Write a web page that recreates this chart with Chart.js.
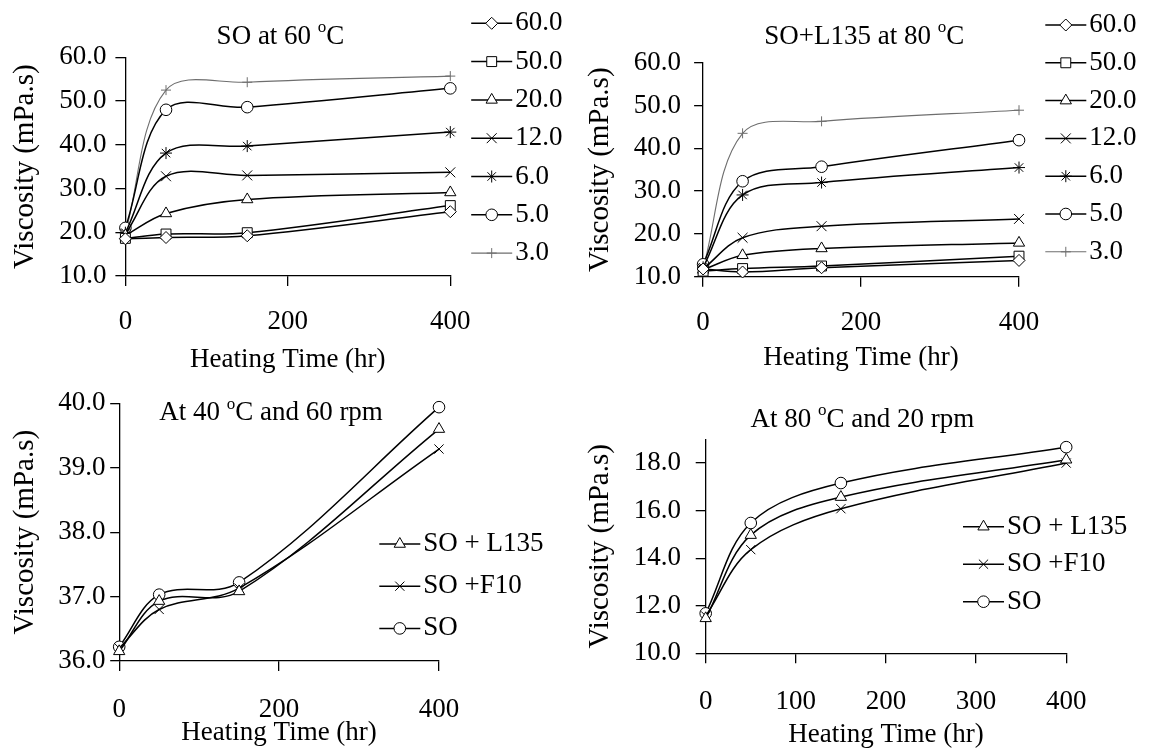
<!DOCTYPE html>
<html>
<head>
<meta charset="utf-8">
<script src="https://cdn.jsdelivr.net/npm/chart.js@4.4.0/dist/chart.umd.min.js"></script>
<style>
  body { margin: 0; background: #fff; }
  canvas { position: absolute; }
</style>
</head>
<body>
<canvas id="c1" width="575" height="377" style="left:0;top:0"></canvas>
<canvas id="c2" width="574" height="377" style="left:575px;top:0"></canvas>
<canvas id="c3" width="575" height="377" style="left:0;top:374px"></canvas>
<canvas id="c4" width="574" height="377" style="left:575px;top:374px"></canvas>
<script>
// heating time (hr) for every series
var hours = [0, 50, 150, 400];

// rpm series names for the two upper charts
var rpmLabels = ['60.0', '50.0', '20.0', '12.0', '6.0', '5.0', '3.0'];

// SO at 60 C  (viscosity, mPa.s)
var so60_rpm60 = [18.5, 18.8, 19.2, 24.7];
var so60_rpm50 = [18.6, 19.6, 19.9, 26.1];
var so60_rpm20 = [19.3, 24.3, 27.5, 29.1];
var so60_rpm12 = [19.6, 32.8, 33.0, 33.7];
var so60_rpm6  = [19.9, 38.1, 39.7, 42.9];
var so60_rpm5  = [21.0, 48.0, 48.6, 52.9];
var so60_rpm3  = [19.8, 52.5, 54.3, 55.7];

// SO+L135 at 80 C
var l135_rpm60 = [11.8, 11.1, 12.1, 13.8];
var l135_rpm50 = [11.3, 11.9, 12.5, 14.8];
var l135_rpm20 = [11.6, 15.0, 16.6, 17.9];
var l135_rpm12 = [11.8, 19.1, 21.8, 23.5];
var l135_rpm6  = [12.2, 29.1, 32.0, 35.5];
var l135_rpm5  = [12.9, 32.3, 35.7, 41.9];
var l135_rpm3  = [12.0, 43.5, 46.3, 48.9];

// oil series for the two lower charts
var oilLabels = ['SO + L135', 'SO +F10', 'SO'];

// at 40 C and 60 rpm
var at40_L135 = [36.15, 36.93, 37.08, 39.60];
var at40_F10  = [36.20, 36.80, 37.13, 39.29];
var at40_SO   = [36.22, 37.03, 37.22, 39.94];

// at 80 C and 20 rpm
var at80_L135 = [11.47, 14.97, 16.57, 18.14];
var at80_F10  = [11.57, 14.36, 16.08, 18.00];
var at80_SO   = [11.68, 15.48, 17.16, 18.67];

var FONT = "'Liberation Serif', 'Times New Roman', serif";
Chart.defaults.font.family = FONT;
Chart.defaults.color = '#000';

var rpmStyles = ['rectRot', 'rect', 'triangle', 'crossRot', 'star', 'circle', 'cross'];
var rpmRadius = [6, 7, 6.5, 7, 6, 5.8, 5];
var oilStyles = ['triangle', 'crossRot', 'circle'];
var oilRadius = [6.5, 6.5, 5.8];

function series(label, ys, style, radius, color, width) {
  return {
    label: label,
    data: hours.map(function (h, i) { return { x: h, y: ys[i] }; }),
    borderColor: color,
    borderWidth: width,
    pointStyle: style,
    pointRadius: radius,
    pointBorderColor: color,
    pointBackgroundColor: '#fff',
    pointBorderWidth: 1,
    tension: 0.35,
    clip: false
  };
}

function drawTitle(ctx, o) {
  var big = '27px ' + FONT, small = '17px ' + FONT;
  ctx.font = big;
  var w1 = ctx.measureText(o.textA).width, w3 = ctx.measureText(o.textC).width;
  ctx.font = small;
  var w2 = ctx.measureText('o').width;
  var x = o.titleX - (w1 + w2 + w3) / 2;
  ctx.fillStyle = '#000';
  ctx.textAlign = 'left';
  ctx.textBaseline = 'middle';
  ctx.font = big;
  ctx.fillText(o.textA, x, o.titleY);
  ctx.font = small;
  ctx.fillText('o', x + w1, o.titleY - 9);
  ctx.font = big;
  ctx.fillText(o.textC, x + w1 + w2, o.titleY);
}

// title with superscript degree sign and a legend with line + marker
var panelText = {
  id: 'panelText',
  afterDraw: function (chart, args, o) {
    var ctx = chart.ctx;
    ctx.save();
    drawTitle(ctx, o);
    chart.data.datasets.forEach(function (ds, i) {
      var y = o.legendY + i * o.legendStep;
      ctx.strokeStyle = ds.borderColor;
      ctx.lineWidth = ds.borderWidth;
      ctx.beginPath();
      ctx.moveTo(o.legendX, y);
      ctx.lineTo(o.legendX + 41, y);
      ctx.stroke();
      ctx.fillStyle = '#fff';
      ctx.strokeStyle = ds.pointBorderColor;
      ctx.lineWidth = 1;
      Chart.helpers.drawPoint(ctx, { pointStyle: ds.pointStyle, radius: ds.pointRadius, rotation: 0, borderWidth: 1 }, o.legendX + 20.5, y);
      ctx.fillStyle = '#000';
      ctx.font = '27px ' + FONT;
      ctx.textAlign = 'left';
      ctx.textBaseline = 'middle';
      ctx.fillText(ds.label, o.legendX + 44, y);
    });
    ctx.restore();
  }
};

function makeChart(id, p) {
  new Chart(document.getElementById(id), {
    type: 'line',
    data: { datasets: p.datasets },
    plugins: [panelText],
    options: {
      responsive: false,
      animation: false,
      layout: { padding: p.padding },
      plugins: {
        legend: { display: false },
        tooltip: { enabled: false },
        panelText: p.text
      },
      scales: {
        x: {
          type: 'linear',
          min: 0, max: 400,
          border: { color: '#000', width: 1.3 },
          grid: { drawOnChartArea: false, color: '#000', lineWidth: 1.3, tickLength: 10 },
          ticks: { stepSize: p.xStep, padding: p.xPad, font: { size: 27 } },
          title: { display: true, text: 'Heating Time (hr)', font: { size: 27 }, padding: 0 },
          afterFit: function (s) { s.height = p.xHeight; }
        },
        y: {
          min: p.yMin, max: p.yMax,
          border: { color: '#000', width: 1.3 },
          grid: { drawOnChartArea: false, color: '#000', lineWidth: 1.3, tickLength: p.yTick },
          ticks: { stepSize: p.yStep, padding: p.yPad, font: { size: 27 }, includeBounds: false,
            callback: function (v) { return v.toFixed(1); } },
          title: { display: true, text: 'Viscosity (mPa.s)', font: { size: 29 }, padding: 0 },
          afterFit: function (s) { s.width = p.yWidth; }
        }
      }
    }
  });
}

var rpmData1 = [so60_rpm60, so60_rpm50, so60_rpm20, so60_rpm12, so60_rpm6, so60_rpm5, so60_rpm3];
var rpmData2 = [l135_rpm60, l135_rpm50, l135_rpm20, l135_rpm12, l135_rpm6, l135_rpm5, l135_rpm3];

function rpmSets(list) {
  return list.map(function (ys, i) {
    var gray = i === 6;
    return series(rpmLabels[i], ys, rpmStyles[i], rpmRadius[i], gray ? '#6e6e6e' : '#000', gray ? 1.1 : 1.5);
  });
}
function oilSets(list) {
  return list.map(function (ys, i) {
    return series(oilLabels[i], ys, oilStyles[i], oilRadius[i], '#000', 1.5);
  });
}

makeChart('c1', {
  datasets: rpmSets(rpmData1),
  padding: { left: 8.3, top: 57.3, right: 124.7, bottom: 0.8 },
  xStep: 200, xPad: 19.5, xHeight: 100.2,
  yMin: 10, yMax: 60, yStep: 10, yTick: 10, yPad: 9, yWidth: 117.1,
  text: { textA: 'SO at 60 ', textC: 'C', titleX: 280.5, titleY: 37, legendX: 471.2, legendY: 23.3, legendStep: 38.3 }
});

makeChart('c2', {
  datasets: rpmSets(rpmData2),
  padding: { left: 8.2, top: 62.7, right: 130, bottom: 2.5 },
  xStep: 200, xPad: 20.4, xHeight: 97.8,
  yMin: 10, yMax: 60, yStep: 10, yTick: 9, yPad: 13, yWidth: 119.9,
  text: { textA: 'SO+L135 at 80 ', textC: 'C', titleX: 289.2, titleY: 37, legendX: 470.3, legendY: 25, legendStep: 37.8 }
});

makeChart('c3', {
  datasets: oilSets([at40_L135, at40_F10, at40_SO]),
  padding: { left: 8.3, top: 29.3, right: 136, bottom: 1.5 },
  xStep: 200, xPad: 22.8, xHeight: 88.5,
  yMin: 36, yMax: 40, yStep: 1, yTick: 9, yPad: 4.6, yWidth: 110.9,
  text: { textA: 'At 40 ', textC: 'C and 60 rpm', titleX: 271, titleY: 39.3, legendX: 379.3, legendY: 170, legendStep: 42.2 }
});

makeChart('c4', {
  datasets: oilSets([at80_L135, at80_F10, at80_SO]),
  padding: { left: 8.2, top: 65.3, right: 82.8, bottom: 0 },
  xStep: 100, xPad: 22.2, xHeight: 97.7,
  yMin: 10, yMax: 19, yStep: 2, yTick: 10, yPad: 14.7, yWidth: 122.5,
  text: { textA: 'At 80 ', textC: 'C and 20 rpm', titleX: 287.3, titleY: 46, legendX: 388, legendY: 152.7, legendStep: 37.5 }
});
</script>
</body>
</html>
